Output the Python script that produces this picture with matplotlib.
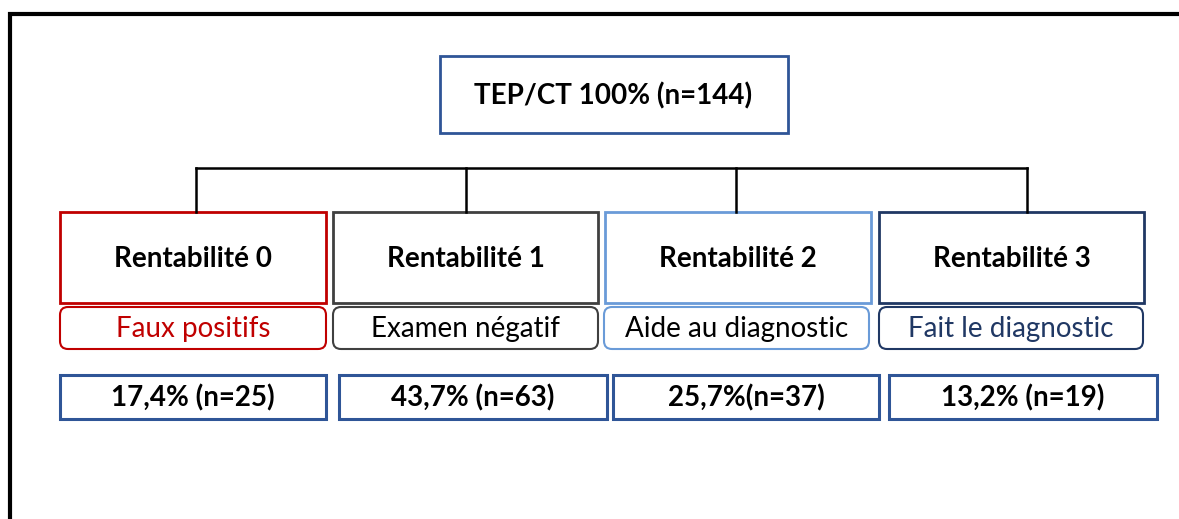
import matplotlib.pyplot as plt
from matplotlib.patches import Rectangle, FancyBboxPatch

# Données du schéma
top_label = "TEP/CT 100% (n=144)"
levels = ["Rentabilité 0", "Rentabilité 1", "Rentabilité 2", "Rentabilité 3"]
descriptions = ["Faux positifs", "Examen négatif", "Aide au diagnostic", "Fait le diagnostic"]
results = ["17,4% (n=25)", "43,7% (n=63)", "25,7%(n=37)", "13,2% (n=19)"]

# Couleurs de chaque branche
level_colors = ["#C00000", "#404040", "#6A9BD8", "#203864"]
desc_text_colors = ["#C00000", "#000000", "#000000", "#203864"]
result_color = "#2F5597"

# Mise en page (en pixels)
level_x = [(60, 326), (333, 598), (605, 871), (879, 1144)]
desc_x = [(60, 326), (333, 598), (604, 869), (879, 1143)]
result_x = [(60, 326), (339, 607), (613, 879), (889, 1157)]
branch_x = [196, 466, 736, 1027]

plt.rcParams['font.family'] = ['Lato', 'DejaVu Sans']

fig = plt.figure(figsize=(11.79, 5.19), dpi=100)
ax = fig.add_axes([0, 0, 1, 1])
ax.set_xlim(0, 1179)
ax.set_ylim(519, 0)
ax.axis('off')

# cadre extérieur
ax.plot([10, 10, 1185], [525, 14, 14], color='black', linewidth=3, solid_joinstyle='miter')

# boîte du haut
ax.add_patch(Rectangle((440, 56), 348, 77, fill=False, edgecolor=result_color, linewidth=2))
ax.text(613, 96, top_label, ha='center', va='center', fontsize=20, fontweight='bold')

# connecteurs
ax.plot([branch_x[0], branch_x[-1]], [168, 168], color='black', linewidth=1.8)
for bx in branch_x:
    ax.plot([bx, bx], [168, 212], color='black', linewidth=1.8)

for i in range(4):
    x0, x1 = level_x[i]
    ax.add_patch(Rectangle((x0, 212), x1 - x0, 91, fill=False,
                           edgecolor=level_colors[i], linewidth=2))
    ax.text((x0 + x1) / 2, 259, levels[i], ha='center', va='center',
            fontsize=20, fontweight='bold')

    d0, d1 = desc_x[i]
    ax.add_patch(FancyBboxPatch((d0, 307), d1 - d0, 42,
                                boxstyle="round,pad=0,rounding_size=8",
                                fill=False, edgecolor=level_colors[i], linewidth=1.5))
    ax.text((d0 + d1) / 2, 329, descriptions[i], ha='center', va='center',
            fontsize=20, color=desc_text_colors[i])

    r0, r1 = result_x[i]
    ax.add_patch(Rectangle((r0, 375), r1 - r0, 44, fill=False,
                           edgecolor=result_color, linewidth=2.2))
    ax.text((r0 + r1) / 2, 398, results[i], ha='center', va='center',
            fontsize=20, fontweight='bold')

fig.savefig("out.png", dpi=100)
